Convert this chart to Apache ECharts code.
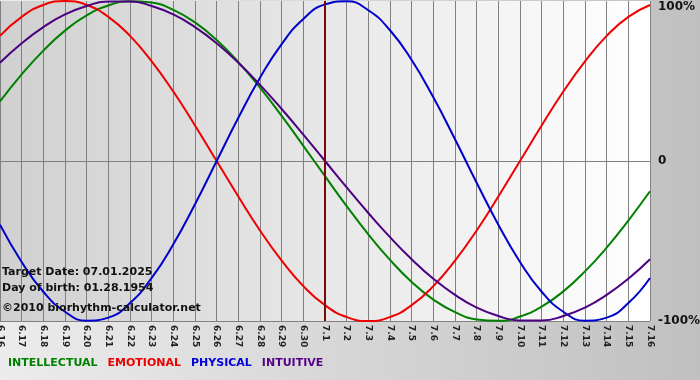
<!DOCTYPE html>
<html>
<head>
<meta charset="utf-8">
<script src="https://cdn.jsdelivr.net/npm/echarts@6/dist/echarts.min.js"></script>
<style>
html,body{margin:0;padding:0;}
#c{width:700px;height:380px;}
</style>
</head>
<body>
<div id="c"></div>
<script>
var dates = ['6.16','6.17','6.18','6.19','6.20','6.21','6.22','6.23','6.24','6.25','6.26','6.27','6.28','6.29','6.30',
  '7.1','7.2','7.3','7.4','7.5','7.6','7.7','7.8','7.9','7.10','7.11','7.12','7.13','7.14','7.15','7.16'];
var intellectual = [37.2,54.1,69.0,81.5,91.0,97.2,99.9,99.0,94.5,86.6,75.6,61.8,45.8,28.2,9.5,
  -9.5,-28.2,-45.8,-61.8,-75.6,-86.6,-94.5,-99.0,-99.9,-97.2,-91.0,-81.5,-69.0,-54.1,-37.2,-18.9];
var emotional = [78.2,90.1,97.5,100,97.5,90.1,78.2,62.3,43.4,22.2,0,-22.2,-43.4,-62.3,-78.2,
  -90.1,-97.5,-100,-97.5,-90.1,-78.2,-62.3,-43.4,-22.2,0,22.2,43.4,62.3,78.2,90.1,97.5];
var physical = [-39.8,-63.1,-81.7,-94.2,-99.8,-97.9,-88.8,-73.1,-52.0,-27.0,0,27.0,52.0,73.1,88.8,
  97.9,99.8,94.2,81.7,63.1,39.8,13.6,-13.6,-39.8,-63.1,-81.7,-94.2,-99.8,-97.9,-88.8,-73.1];
var intuitive = [61.4,73.6,83.7,91.6,96.9,99.7,99.7,96.9,91.6,83.7,73.6,61.4,47.6,32.5,16.5,
  0,-16.5,-32.5,-47.6,-61.4,-73.6,-83.7,-91.6,-96.9,-99.7,-99.7,-96.9,-91.6,-83.7,-73.6,-61.4];
var yTicks = [-100, 0, 100];
var targetDate = '7.1';
var infoLines = ['Target Date: 07.01.2025', 'Day of birth: 01.28.1954', '\u00a92010 biorhythm-calculator.net'];
var seriesNames = ['INTELLECTUAL','EMOTIONAL','PHYSICAL','INTUITIVE'];
var lineColors = ['#008000','#ee0000','#0000cc','#4b0082'];
var legendColors = ['#008000','#ee0000','#0000dd','#550088'];

var chart = echarts.init(document.getElementById('c'), null, {renderer:'canvas'});
var seriesData = [intellectual, emotional, physical, intuitive];
var series = seriesNames.map(function(n, i){
  return {
    name: n, type: 'line', data: seriesData[i], smooth: true, symbol: 'none',
    lineStyle: {color: lineColors[i], width: 2}, itemStyle: {color: lineColors[i]},
    animation: false, z: 3
  };
});
series.push({
  name: 'target', type: 'line', data: [], silent: true, animation: false, z: 4,
  markLine: {
    silent: true, symbol: ['none','none'], animation: false,
    label: {show: false},
    lineStyle: {color: '#7a0a0a', width: 2, type: 'solid'},
    data: [{xAxis: targetDate}]
  }
});
var font = 'DejaVu Sans, Verdana, sans-serif';
chart.setOption({
  animation: false,
  backgroundColor: new echarts.graphic.LinearGradient(0,0,1,0,[{offset:0,color:'#ececec'},{offset:1,color:'#c0c0c0'}]),
  grid: {
    left: 0, top: 1, width: 650, height: 320, show: true, borderWidth: 0,
    containLabel: false, outerBoundsMode: 'none',
    backgroundColor: new echarts.graphic.LinearGradient(0,0,1,0,[{offset:0,color:'#d0d0d0'},{offset:1,color:'#ffffff'}])
  },
  legend: {
    left: -2, top: 353, itemWidth: 0, itemHeight: 0, itemGap: 5, selectedMode: false,
    data: seriesNames.map(function(n,i){ return {name: n, icon: 'rect', textStyle: {color: legendColors[i]}}; }),
    textStyle: {fontFamily: font, fontWeight: 'bold', fontSize: 11}
  },
  xAxis: {
    type: 'category', data: dates, boundaryGap: false,
    axisLine: {lineStyle: {color: '#808080', width: 1}},
    axisTick: {show: true, length: 3, lineStyle: {color: '#808080'}},
    axisLabel: {rotate: -90, fontSize: 9, fontWeight: 'bold', color: '#222', margin: 4, interval: 0, fontFamily: font},
    splitLine: {show: true, lineStyle: {color: '#808080', width: 1}}
  },
  yAxis: {
    type: 'value', position: 'right', min: yTicks[0], max: yTicks[2], interval: 100,
    axisLine: {show: false}, axisTick: {show: false},
    axisLabel: {
      margin: 8, fontFamily: font, fontWeight: 'bold', fontSize: 12, color: '#111',
      verticalAlignMaxLabel: 'top',
      formatter: function(v){ return v === 0 ? '0' : v + '%'; }
    },
    splitLine: {show: true, lineStyle: {color: ['#808080','#808080','rgba(0,0,0,0)'], width: 1}}
  },
  graphic: infoLines.map(function(t, i){
    return {type: 'text', left: 2, top: [267, 283, 303][i], z: 10, silent: true,
      style: {text: t, fontFamily: font, fontWeight: 'bold', fontSize: 11, fill: '#111'}};
  }),
  series: series
});
</script>
</body>
</html>
